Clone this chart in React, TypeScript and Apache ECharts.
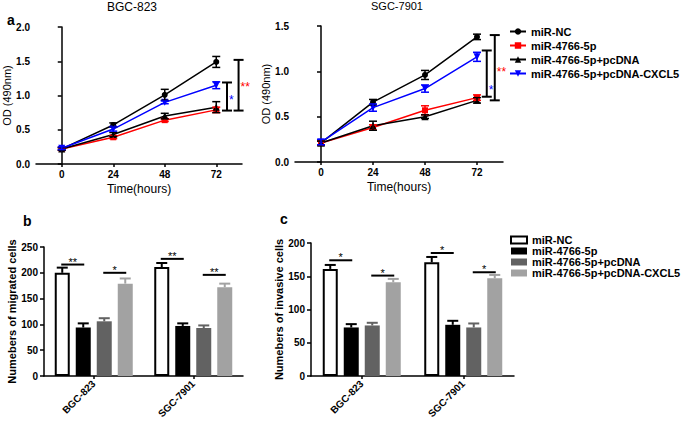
import React, { useEffect, useRef } from 'react';
import * as echarts from 'echarts';

// ---------- data ----------
const hours = [0, 24, 48, 72];
const groupNames = ['miR-NC', 'miR-4766-5p', 'miR-4766-5p+pcDNA', 'miR-4766-5p+pcDNA-CXCL5'];

// Panel a, BGC-823 (OD 490nm)
const bgcNC = [0.22, 0.57, 1.01, 1.49];
const bgcMiR = [0.22, 0.39, 0.64, 0.79];
const bgcPc = [0.22, 0.43, 0.7, 0.83];
const bgcCx = [0.23, 0.51, 0.9, 1.15];
const bgcNCErr = [0.02, 0.03, 0.08, 0.08];
const bgcMiRErr = [0.02, 0.02, 0.02, 0.04];
const bgcPcErr = [0.02, 0.03, 0.04, 0.08];
const bgcCxErr = [0.02, 0.03, 0.02, 0.05];

// Panel a, SGC-7901 (OD 490nm)
const sgcNC = [0.21, 0.66, 0.96, 1.38];
const sgcMiR = [0.21, 0.38, 0.57, 0.71];
const sgcPc = [0.21, 0.4, 0.5, 0.68];
const sgcCx = [0.22, 0.6, 0.81, 1.16];
const sgcNCErr = [0.03, 0.03, 0.05, 0.03];
const sgcMiRErr = [0.02, 0.03, 0.05, 0.03];
const sgcPcErr = [0.02, 0.05, 0.02, 0.03];
const sgcCxErr = [0.03, 0.04, 0.04, 0.05];

// significance brackets: [hour, low, high]
const bgcBrackets = [[77, 0.78, 1.19], [82.4, 0.78, 1.52]];
const sgcBrackets = [[76.5, 0.72, 1.23], [80.2, 0.68, 1.4]];
// significance stars: [hour, value]
const bgcStars = [[77, 0.98], [82.4, 1.17]];
const sgcStars = [[76.5, 0.83], [80.2, 1.03]];
const starLabels = ['*', '**'];

// Panels b, c
const cellLines = ['BGC-823', 'SGC-7901'];
const migNC = [200, 211];
const migMiR = [94, 97];
const migPc = [106, 93];
const migCx = [179, 172];
const migNCErr = [10, 8];
const migMiRErr = [8, 5];
const migPcErr = [6, 5];
const migCxErr = [10, 7];

const invNC = [161, 171];
const invMiR = [73, 77];
const invPc = [76, 73];
const invCx = [141, 147];
const invNCErr = [6, 8];
const invMiRErr = [5, 6];
const invPcErr = [4, 6];
const invCxErr = [5, 5];

// bar significance: [category, barA, barB, value]
const migSig = [[0, 0, 1, 216], [0, 2, 3, 200], [1, 0, 1, 227], [1, 2, 3, 196]];
const migSigLabels = ['**', '*', '**', '**'];
const invSig = [[0, 0, 1, 174], [0, 2, 3, 151], [1, 0, 1, 185], [1, 2, 3, 156]];
const invSigLabels = ['*', '*', '*', '*'];

// ---------- styles ----------
const FONT = 'Liberation Sans, Arial, Helvetica, sans-serif';
const lineColors = ['#000000', '#ff0000', '#000000', '#0000ff'];
const lineSymbols = ['circle', 'rect', 'triangle', 'triangle'];
const lineSymbolRotate = [0, 0, 0, 180];
const lineSymbolSize = [6, 6, 7, 7];
const barColors = ['#ffffff', '#000000', '#626262', '#a2a2a2'];
const barErrColors = ['#000000', '#000000', '#626262', '#a2a2a2'];
const starColors = ['#0000ff', '#ff0000'];
const BAR_W = 15;
const BAR_GAP = 6;
const barOffset = (i: number) => (i - 1.5) * (BAR_W + BAR_GAP);

const AX_LINE = { color: '#000', width: 1.5 };

function lineXAxis(gridIndex: number) {
  return {
    type: 'value',
    gridIndex,
    min: -12,
    max: 84,
    name: 'Time(hours)',
    nameLocation: 'middle',
    nameGap: 19,
    nameTextStyle: { fontSize: 12, color: '#000', fontFamily: FONT },
    axisLine: { show: true, onZero: false, lineStyle: AX_LINE },
    axisTick: { show: true, length: 3, lineStyle: AX_LINE, customValues: hours },
    axisLabel: { customValues: hours, fontSize: 10, fontWeight: 'bold', color: '#000', margin: 5, fontFamily: FONT },
    splitLine: { show: false },
  };
}

function yAxisCfg(gridIndex: number, max: number, interval: number, name: string, nameGap: number, fontSize: number, decimals: number, nameBold: boolean) {
  return {
    type: 'value',
    gridIndex,
    min: 0,
    max,
    interval,
    name,
    nameLocation: 'middle',
    nameGap,
    nameTextStyle: { fontSize: 11, color: '#000', fontFamily: FONT, fontWeight: nameBold ? 'bold' : 'normal' },
    axisLine: { show: true, lineStyle: AX_LINE },
    axisTick: { show: true, length: 4, lineStyle: AX_LINE },
    axisLabel: {
      fontSize,
      fontWeight: 'bold',
      color: '#000',
      margin: 6,
      fontFamily: FONT,
      formatter: (v: number) => v.toFixed(decimals),
    },
    splitLine: { show: false },
  };
}

function barXAxis(gridIndex: number) {
  return {
    type: 'category',
    gridIndex,
    data: cellLines,
    axisLine: { show: true, lineStyle: AX_LINE },
    axisTick: { show: true, alignWithLabel: true, length: 3, lineStyle: AX_LINE },
    axisLabel: { rotate: 45, fontSize: 10, fontWeight: 'bold', color: '#000', margin: 6, fontFamily: FONT },
    splitLine: { show: false },
  };
}

const lineErrRender = (params: any, api: any) => {
  const x = api.value(0), v = api.value(1), e = api.value(2), g = api.value(3);
  const top = api.coord([x, v + e]);
  const bot = api.coord([x, v - e]);
  const style = { stroke: lineColors[g], lineWidth: 1.5 };
  const hw = 4;
  return {
    type: 'group',
    children: [
      { type: 'line', shape: { x1: top[0], y1: top[1], x2: bot[0], y2: bot[1] }, style },
      { type: 'line', shape: { x1: top[0] - hw, y1: top[1], x2: top[0] + hw, y2: top[1] }, style },
      { type: 'line', shape: { x1: bot[0] - hw, y1: bot[1], x2: bot[0] + hw, y2: bot[1] }, style },
    ],
  };
};

const bracketRender = (params: any, api: any) => {
  const x = api.value(0), lo = api.value(1), hi = api.value(2);
  const top = api.coord([x, hi]);
  const bot = api.coord([x, lo]);
  const style = { stroke: '#000', lineWidth: 2 };
  const hw = 5;
  return {
    type: 'group',
    children: [
      { type: 'line', shape: { x1: top[0], y1: top[1], x2: bot[0], y2: bot[1] }, style },
      { type: 'line', shape: { x1: top[0] - hw, y1: top[1], x2: top[0] + hw, y2: top[1] }, style },
      { type: 'line', shape: { x1: bot[0] - hw, y1: bot[1], x2: bot[0] + hw, y2: bot[1] }, style },
    ],
  };
};

const starRender = (params: any, api: any) => {
  const p = api.coord([api.value(0), api.value(1)]);
  const i = params.dataIndex;
  return {
    type: 'text',
    x: p[0] + 2,
    y: p[1] + 3,
    style: {
      text: starLabels[i],
      fill: starColors[i],
      font: `12px ${FONT}`,
      align: 'left',
      verticalAlign: 'middle',
    },
  };
};

const barErrRender = (params: any, api: any) => {
  const cat = api.value(0), v = api.value(1), e = api.value(2), g = api.value(3);
  const base = api.coord([cat, v]);
  const top = api.coord([cat, v + e]);
  const x = base[0] + barOffset(g);
  const style = { stroke: barErrColors[g], lineWidth: 2 };
  const hw = 5.5;
  return {
    type: 'group',
    children: [
      { type: 'line', shape: { x1: x, y1: base[1], x2: x, y2: top[1] }, style },
      { type: 'line', shape: { x1: x - hw, y1: top[1], x2: x + hw, y2: top[1] }, style },
    ],
  };
};

function barSigRender(labels: string[]) {
  return (params: any, api: any) => {
    const c = api.coord([api.value(0), api.value(3)]);
    const xa = c[0] + barOffset(api.value(1)) - 1;
    const xb = c[0] + barOffset(api.value(2)) + 1;
    return {
      type: 'group',
      children: [
        { type: 'line', shape: { x1: xa, y1: c[1], x2: xb, y2: c[1] }, style: { stroke: '#000', lineWidth: 2 } },
        {
          type: 'text',
          x: (xa + xb) / 2,
          y: c[1] - 3,
          style: { text: labels[params.dataIndex], fill: '#000', font: `11px ${FONT}`, align: 'center', verticalAlign: 'middle' },
        },
      ],
    };
  };
}

function lineSeries(vals: number[][], axisIndex: number) {
  return vals.map((v, i) => ({
    type: 'line',
    name: groupNames[i],
    xAxisIndex: axisIndex,
    yAxisIndex: axisIndex,
    data: hours.map((h, j) => [h, v[j]]),
    symbol: lineSymbols[i],
    symbolRotate: lineSymbolRotate[i],
    symbolSize: lineSymbolSize[i],
    lineStyle: { color: lineColors[i], width: 1.5 },
    itemStyle: { color: lineColors[i] },
    z: 3,
  }));
}

function lineErrSeries(vals: number[][], errs: number[][], axisIndex: number) {
  const data: number[][] = [];
  vals.forEach((v, g) => hours.forEach((h, j) => data.push([h, v[j], errs[g][j], g])));
  return {
    type: 'custom',
    xAxisIndex: axisIndex,
    yAxisIndex: axisIndex,
    renderItem: lineErrRender,
    encode: { x: 0, y: 1 },
    data,
    z: 4,
  };
}

function barSeries(vals: number[][], axisIndex: number) {
  return vals.map((v, i) => ({
    type: 'bar',
    name: groupNames[i],
    xAxisIndex: axisIndex,
    yAxisIndex: axisIndex,
    data: v,
    barWidth: BAR_W,
    barGap: `${(BAR_GAP / BAR_W) * 100}%`,
    itemStyle: { color: barColors[i], borderColor: '#000', borderWidth: i === 0 ? 2 : 0 },
  }));
}

function barErrSeries(vals: number[][], errs: number[][], axisIndex: number) {
  const data: number[][] = [];
  vals.forEach((v, g) => v.forEach((val, j) => data.push([j, val, errs[g][j], g])));
  return {
    type: 'custom',
    xAxisIndex: axisIndex,
    yAxisIndex: axisIndex,
    renderItem: barErrRender,
    encode: { x: 0, y: 1 },
    data,
    z: 4,
  };
}

export default function App() {
  const ref = useRef<HTMLDivElement>(null);

  useEffect(() => {
    if (!ref.current) return;
    const chart = echarts.init(ref.current, undefined, { renderer: 'svg' });

    const bgcVals = [bgcNC, bgcMiR, bgcPc, bgcCx];
    const bgcErrs = [bgcNCErr, bgcMiRErr, bgcPcErr, bgcCxErr];
    const sgcVals = [sgcNC, sgcMiR, sgcPc, sgcCx];
    const sgcErrs = [sgcNCErr, sgcMiRErr, sgcPcErr, sgcCxErr];
    const migVals = [migNC, migMiR, migPc, migCx];
    const migErrs = [migNCErr, migMiRErr, migPcErr, migCxErr];
    const invVals = [invNC, invMiR, invPc, invCx];
    const invErrs = [invNCErr, invMiRErr, invPcErr, invCxErr];

    const option: any = {
      animation: false,
      backgroundColor: '#ffffff',
      textStyle: { fontFamily: FONT },
      title: [
        { text: 'BGC-823', left: 132, top: 1, textAlign: 'center', padding: 0, textStyle: { fontSize: 12, fontWeight: 'normal', color: '#000', fontFamily: FONT } },
        { text: 'SGC-7901', left: 397, top: 0, textAlign: 'center', padding: 0, textStyle: { fontSize: 11, fontWeight: 'normal', color: '#000', fontFamily: FONT } },
      ],
      grid: [
        { left: 36, top: 27, width: 206, height: 137 },
        { left: 295, top: 26, width: 208, height: 136 },
        { left: 44, top: 247, width: 199, height: 129 },
        { left: 311, top: 243, width: 203, height: 133 },
      ],
      xAxis: [lineXAxis(0), lineXAxis(1), barXAxis(2), barXAxis(3)],
      yAxis: [
        yAxisCfg(0, 2, 0.5, 'OD (490nm)', 22, 10, 1, false),
        yAxisCfg(1, 1.5, 0.5, 'OD (490nm)', 22, 10, 1, false),
        yAxisCfg(2, 250, 50, 'Numebers of migrated cells', 27, 10, 0, true),
        yAxisCfg(3, 200, 50, 'Numebers of invasive cells', 26, 10, 0, true),
      ],
      legend: [
        {
          orient: 'vertical',
          left: 509,
          top: 26,
          padding: 0,
          itemWidth: 16,
          itemHeight: 8,
          itemGap: 3,
          selectedMode: false,
          textStyle: { fontSize: 11, fontWeight: 'bold', color: '#000', fontFamily: FONT, lineHeight: 11 },
          data: groupNames,
        },
        {
          orient: 'vertical',
          left: 510,
          top: 234.5,
          padding: 0,
          itemWidth: 16,
          itemHeight: 7,
          itemGap: 0,
          selectedMode: false,
          textStyle: { fontSize: 11, fontWeight: 'bold', color: '#000', fontFamily: FONT, lineHeight: 9.5 },
          data: groupNames.map((n, i) => ({
            name: n,
            icon: 'rect',
            itemStyle: { color: barColors[i], borderColor: '#000', borderWidth: i === 0 ? 2 : 0 },
          })),
        },
      ],
      graphic: [
        { type: 'text', left: 7, top: 13, style: { text: 'a', font: `bold 14px ${FONT}`, fill: '#000' } },
        { type: 'text', left: 23, top: 214, style: { text: 'b', font: `bold 14px ${FONT}`, fill: '#000' } },
        { type: 'text', left: 280, top: 212, style: { text: 'c', font: `bold 14px ${FONT}`, fill: '#000' } },
      ],
      series: [
        ...lineSeries(bgcVals, 0),
        ...lineSeries(sgcVals, 1),
        lineErrSeries(bgcVals, bgcErrs, 0),
        lineErrSeries(sgcVals, sgcErrs, 1),
        {
          type: 'custom', xAxisIndex: 0, yAxisIndex: 0, renderItem: bracketRender,
          encode: { x: 0, y: 1 }, data: bgcBrackets,
        },
        {
          type: 'custom', xAxisIndex: 1, yAxisIndex: 1, renderItem: bracketRender,
          encode: { x: 0, y: 1 }, data: sgcBrackets,
        },
        {
          type: 'custom', xAxisIndex: 0, yAxisIndex: 0, renderItem: starRender,
          encode: { x: 0, y: 1 }, data: bgcStars,
        },
        {
          type: 'custom', xAxisIndex: 1, yAxisIndex: 1, renderItem: starRender,
          encode: { x: 0, y: 1 }, data: sgcStars,
        },
        ...barSeries(migVals, 2),
        ...barSeries(invVals, 3),
        barErrSeries(migVals, migErrs, 2),
        barErrSeries(invVals, invErrs, 3),
        {
          type: 'custom', xAxisIndex: 2, yAxisIndex: 2, renderItem: barSigRender(migSigLabels),
          encode: { x: 0, y: 3 }, data: migSig,
        },
        {
          type: 'custom', xAxisIndex: 3, yAxisIndex: 3, renderItem: barSigRender(invSigLabels),
          encode: { x: 0, y: 3 }, data: invSig,
        },
      ],
    };

    chart.setOption(option);
    return () => chart.dispose();
  }, []);

  return (
    <div
      ref={ref}
      style={{ position: 'fixed', left: 0, top: 0, width: 685, height: 423, background: '#fff' }}
    />
  );
}
